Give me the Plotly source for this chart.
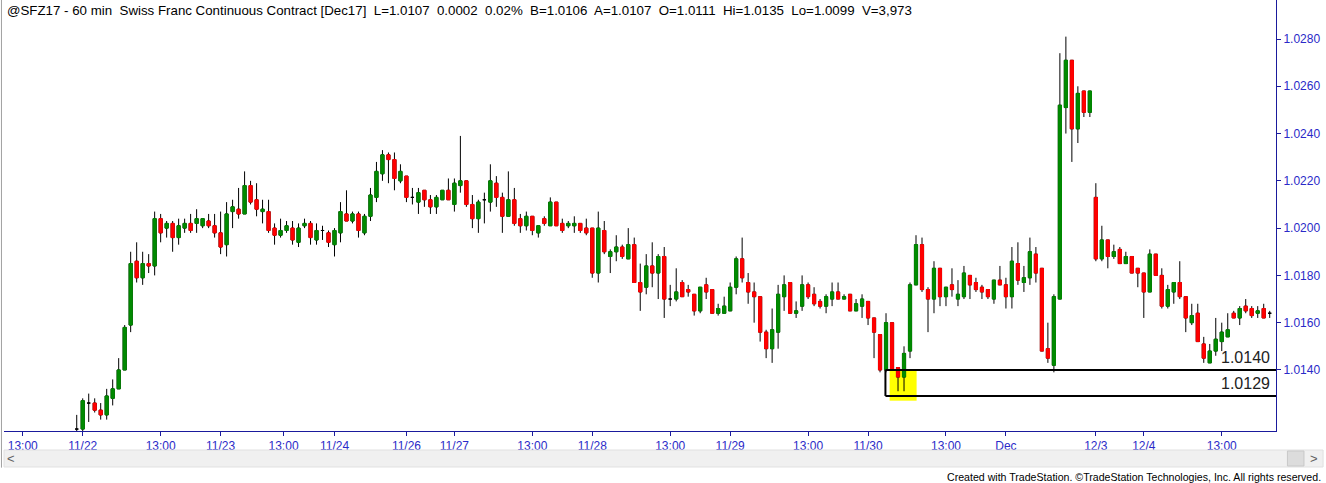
import plotly.graph_objects as go

# ---- data: hourly OHLC bars (SFZ17, 60 min) ----
opens = [1.0115,1.0115,1.0126,1.0126,1.0123,1.0121,1.0128,1.0132,1.0140,1.0159,
 1.0186,1.0179,1.0185,1.0184,1.0204,1.0200,1.0202,1.0196,1.0200,1.0202,
 1.0202,1.0201,1.0203,1.0201,1.0198,1.0193,1.0207,1.0208,1.0206,1.0218,
 1.0212,1.0207,1.0207,1.0200,1.0197,1.0199,1.0200,1.0194,1.0201,1.0202,
 1.0195,1.0199,1.0198,1.0193,1.0198,1.0206,1.0203,1.0206,1.0198,1.0205,
 1.0213,1.0223,1.0231,1.0229,1.0220,1.0222,1.0213,1.0211,1.0216,1.0212,
 1.0209,1.0212,1.0216,1.0210,1.0218,1.0220,1.0210,1.0204,1.0212,1.0211,
 1.0219,1.0213,1.0205,1.0212,1.0204,1.0201,1.0205,1.0198,1.0204,1.0201,
 1.0211,1.0202,1.0201,1.0201,1.0202,1.0200,1.0200,1.0181,1.0199,1.0188,
 1.0190,1.0192,1.0187,1.0193,1.0177,1.0175,1.0184,1.0181,1.0188,1.0170,
 1.0170,1.0177,1.0174,1.0172,1.0165,1.0176,1.0174,1.0164,1.0164,1.0165,
 1.0175,1.0187,1.0177,1.0173,1.0171,1.0156,1.0149,1.0156,1.0171,1.0177,
 1.0164,1.0167,1.0176,1.0172,1.0169,1.0167,1.0170,1.0173,1.0170,1.0172,
 1.0165,1.0167,1.0169,1.0162,1.0155,1.0140,1.0160,1.0141,1.0137,1.0148,
 1.0176,1.0193,1.0174,1.0170,1.0183,1.0171,1.0176,1.0170,1.0171,1.0180,
 1.0177,1.0175,1.0174,1.0170,1.0178,1.0176,1.0171,1.0185,1.0177,1.0179,
 1.0189,1.0183,1.0149,1.0142,1.0170,1.0251,1.0271,1.0242,1.0258,1.0249,
 1.0213,1.0187,1.0195,1.0188,1.0191,1.0185,1.0188,1.0183,1.0181,1.0173,
 1.0189,1.0180,1.0167,1.0173,1.0177,1.0171,1.0160,1.0164,1.0151,1.0143,
 1.0148,1.0152,1.0154,1.0164,1.0162,1.0167,1.0166,1.0164,1.0166,1.0164]

highs = [1.0121,1.0128,1.0130,1.0128,1.0126,1.0132,1.0136,1.0145,1.0159,1.0190,
 1.0194,1.0190,1.0189,1.0207,1.0206,1.0203,1.0203,1.0204,1.0204,1.0206,
 1.0208,1.0204,1.0206,1.0206,1.0207,1.0211,1.0212,1.0217,1.0224,1.0220,
 1.0219,1.0212,1.0212,1.0202,1.0204,1.0203,1.0203,1.0202,1.0204,1.0203,
 1.0202,1.0201,1.0199,1.0200,1.0211,1.0216,1.0207,1.0207,1.0206,1.0217,
 1.0228,1.0233,1.0232,1.0232,1.0227,1.0222,1.0217,1.0217,1.0216,1.0214,
 1.0214,1.0216,1.0221,1.0221,1.0239,1.0220,1.0214,1.0212,1.0215,1.0227,
 1.0222,1.0215,1.0224,1.0217,1.0206,1.0207,1.0205,1.0201,1.0205,1.0213,
 1.0211,1.0204,1.0203,1.0205,1.0202,1.0204,1.0200,1.0207,1.0203,1.0191,
 1.0197,1.0193,1.0200,1.0196,1.0185,1.0189,1.0194,1.0189,1.0192,1.0176,
 1.0183,1.0178,1.0176,1.0172,1.0175,1.0179,1.0174,1.0168,1.0171,1.0177,
 1.0188,1.0196,1.0181,1.0177,1.0171,1.0157,1.0166,1.0176,1.0180,1.0177,
 1.0169,1.0180,1.0177,1.0175,1.0170,1.0172,1.0177,1.0177,1.0172,1.0172,
 1.0170,1.0172,1.0169,1.0162,1.0155,1.0164,1.0160,1.0141,1.0150,1.0177,
 1.0197,1.0196,1.0175,1.0186,1.0183,1.0175,1.0183,1.0178,1.0184,1.0180,
 1.0179,1.0176,1.0174,1.0178,1.0184,1.0179,1.0192,1.0194,1.0184,1.0196,
 1.0192,1.0183,1.0160,1.0172,1.0274,1.0281,1.0271,1.0260,1.0258,1.0258,
 1.0219,1.0201,1.0195,1.0193,1.0192,1.0190,1.0188,1.0183,1.0181,1.0191,
 1.0189,1.0183,1.0176,1.0177,1.0186,1.0171,1.0168,1.0168,1.0154,1.0151,
 1.0162,1.0160,1.0164,1.0165,1.0167,1.0170,1.0167,1.0167,1.0168,1.0165]

lows = [1.0110,1.0112,1.0118,1.0122,1.0119,1.0119,1.0125,1.0132,1.0140,1.0156,
 1.0177,1.0176,1.0181,1.0180,1.0194,1.0196,1.0190,1.0193,1.0198,1.0198,
 1.0198,1.0200,1.0200,1.0196,1.0189,1.0188,1.0200,1.0204,1.0206,1.0210,
 1.0205,1.0202,1.0198,1.0193,1.0196,1.0198,1.0193,1.0192,1.0200,1.0193,
 1.0193,1.0195,1.0192,1.0188,1.0194,1.0203,1.0202,1.0196,1.0197,1.0203,
 1.0211,1.0220,1.0219,1.0216,1.0219,1.0211,1.0210,1.0206,1.0209,1.0206,
 1.0206,1.0212,1.0212,1.0207,1.0215,1.0209,1.0200,1.0198,1.0202,1.0207,
 1.0209,1.0198,1.0205,1.0201,1.0198,1.0199,1.0197,1.0196,1.0201,1.0201,
 1.0201,1.0198,1.0200,1.0198,1.0198,1.0197,1.0179,1.0177,1.0189,1.0181,
 1.0186,1.0187,1.0187,1.0177,1.0165,1.0172,1.0175,1.0170,1.0162,1.0167,
 1.0169,1.0171,1.0171,1.0163,1.0164,1.0170,1.0164,1.0163,1.0164,1.0165,
 1.0172,1.0177,1.0168,1.0160,1.0152,1.0145,1.0143,1.0149,1.0165,1.0164,
 1.0162,1.0165,1.0170,1.0167,1.0166,1.0164,1.0167,1.0170,1.0170,1.0165,
 1.0165,1.0162,1.0159,1.0145,1.0139,1.0139,1.0140,1.0131,1.0131,1.0145,
 1.0176,1.0173,1.0156,1.0164,1.0167,1.0167,1.0171,1.0167,1.0170,1.0170,
 1.0173,1.0170,1.0170,1.0168,1.0176,1.0166,1.0166,1.0176,1.0173,1.0176,
 1.0177,1.0148,1.0143,1.0139,1.0170,1.0240,1.0228,1.0236,1.0247,1.0247,
 1.0186,1.0186,1.0183,1.0187,1.0185,1.0185,1.0181,1.0175,1.0162,1.0173,
 1.0180,1.0166,1.0166,1.0168,1.0170,1.0156,1.0159,1.0152,1.0143,1.0143,
 1.0146,1.0148,1.0154,1.0162,1.0159,1.0164,1.0162,1.0162,1.0162,1.0162]

closes = [1.0115,1.0127,1.0126,1.0123,1.0121,1.0129,1.0132,1.0140,1.0158,1.0185,
 1.0179,1.0185,1.0184,1.0204,1.0198,1.0202,1.0196,1.0201,1.0202,1.0199,
 1.0204,1.0204,1.0201,1.0198,1.0192,1.0206,1.0209,1.0206,1.0218,1.0211,
 1.0208,1.0208,1.0199,1.0197,1.0199,1.0201,1.0195,1.0200,1.0202,1.0196,
 1.0199,1.0199,1.0194,1.0199,1.0207,1.0203,1.0206,1.0199,1.0205,1.0214,
 1.0224,1.0231,1.0229,1.0221,1.0224,1.0213,1.0213,1.0215,1.0212,1.0209,
 1.0213,1.0216,1.0212,1.0219,1.0220,1.0210,1.0204,1.0211,1.0212,1.0220,
 1.0213,1.0205,1.0212,1.0202,1.0201,1.0205,1.0199,1.0201,1.0202,1.0211,
 1.0201,1.0199,1.0202,1.0202,1.0199,1.0198,1.0181,1.0200,1.0190,1.0190,
 1.0192,1.0188,1.0193,1.0177,1.0173,1.0184,1.0181,1.0188,1.0170,1.0170,
 1.0173,1.0171,1.0173,1.0165,1.0175,1.0173,1.0164,1.0166,1.0167,1.0175,
 1.0187,1.0179,1.0173,1.0171,1.0156,1.0149,1.0157,1.0172,1.0176,1.0164,
 1.0165,1.0176,1.0171,1.0168,1.0167,1.0171,1.0173,1.0170,1.0171,1.0165,
 1.0168,1.0170,1.0162,1.0156,1.0140,1.0160,1.0140,1.0137,1.0147,1.0176,
 1.0193,1.0174,1.0170,1.0183,1.0171,1.0175,1.0174,1.0172,1.0181,1.0176,
 1.0174,1.0173,1.0171,1.0178,1.0176,1.0171,1.0186,1.0178,1.0179,1.0190,
 1.0181,1.0148,1.0145,1.0171,1.0252,1.0271,1.0242,1.0257,1.0249,1.0258,
 1.0187,1.0195,1.0188,1.0190,1.0185,1.0188,1.0181,1.0181,1.0173,1.0189,
 1.0180,1.0167,1.0174,1.0177,1.0171,1.0162,1.0163,1.0152,1.0145,1.0148,
 1.0153,1.0156,1.0157,1.0162,1.0166,1.0165,1.0163,1.0165,1.0162,1.0164]

# x-axis labels (bar index where each label sits)
tick_bars = [-9, 1, 14, 24, 34.5, 43, 55, 63, 76, 86, 99, 109, 122, 132, 145, 155, 170, 178, 191]
tick_labels = ["13:00", "11/22", "13:00", "11/23", "13:00", "11/24", "11/26", "11/27", "13:00",
               "11/28", "13:00", "11/29", "13:00", "11/30", "13:00", "Dec", "12/3", "12/4", "13:00"]
price_ticks = [1.0140, 1.0160, 1.0180, 1.0200, 1.0220, 1.0240, 1.0260, 1.0280]

# support levels drawn on the chart
level_hi = 1.0140
level_lo = 1.0129
box_bars = (135.6, 140.1)   # highlighted low bars
box_bottom = 1.0127

header = ("@SFZ17 - 60 min  Swiss Franc Continuous Contract [Dec17]  L=1.0107  0.0002  0.02%  "
          "B=1.0106  A=1.0107  O=1.0111  Hi=1.0135  Lo=1.0099  V=3,973")
footer = "Created with TradeStation. \u00a9TradeStation Technologies, Inc. All rights reserved."

# ---- figure ----
n = len(opens)
x = list(range(n))
X_MIN, X_MAX = -12.13, 200.05
Y_MIN, Y_MAX = 1.011418, 1.029650

GREEN = "#008a00"
RED = "#ff0000"
AXIS = "#1a1a9c"

fig = go.Figure()
# wicks (black) for every bar
fig.add_trace(go.Candlestick(
    x=x, open=opens, high=highs, low=lows, close=closes,
    increasing=dict(line=dict(color="black", width=1), fillcolor="black"),
    decreasing=dict(line=dict(color="black", width=1), fillcolor="black"),
    whiskerwidth=0, hoverinfo="skip", showlegend=False))

# coloured bodies (dojis left black)
bo, bh, bl, bc = [], [], [], []
for o, c in zip(opens, closes):
    if abs(o - c) < 1e-9:
        bo.append(None); bh.append(None); bl.append(None); bc.append(None)
    else:
        bo.append(o); bc.append(c); bh.append(max(o, c)); bl.append(min(o, c))
fig.add_trace(go.Candlestick(
    x=x, open=bo, high=bh, low=bl, close=bc,
    increasing=dict(line=dict(color=GREEN, width=1), fillcolor=GREEN),
    decreasing=dict(line=dict(color=RED, width=1), fillcolor=RED),
    whiskerwidth=0, showlegend=False))

shapes = []
# yellow highlight
shapes.append(dict(type="rect", xref="x", yref="y", x0=box_bars[0], x1=box_bars[1],
                   y0=box_bottom, y1=level_hi, fillcolor="#ffff00", line=dict(width=0), layer="below"))
# level lines
shapes.append(dict(type="line", xref="x", yref="y", x0=box_bars[0] - 0.7, x1=X_MAX,
                   y0=level_hi, y1=level_hi, line=dict(color="black", width=2)))
shapes.append(dict(type="line", xref="x", yref="y", x0=box_bars[0] - 0.7, x1=X_MAX,
                   y0=level_lo, y1=level_lo, line=dict(color="black", width=2)))
shapes.append(dict(type="line", xref="x", yref="y", x0=box_bars[0] - 0.7, x1=box_bars[0] - 0.7,
                   y0=level_lo, y1=level_hi, line=dict(color="black", width=2)))

# scrollbar below the axis
shapes.append(dict(type="rect", xref="paper", yref="paper", x0=0.0, x1=1.037,
                   y0=-0.0835, y1=-0.0441, fillcolor="#f0f0f0", line=dict(color="#e0e0e0", width=1)))
shapes.append(dict(type="rect", xref="paper", yref="paper", x0=1.009, x1=1.022,
                   y0=-0.0812, y1=-0.0464, fillcolor="#dcdcdc", line=dict(color="#c8c8c8", width=1)))
# left border
shapes.append(dict(type="line", xref="paper", yref="paper", x0=-0.002, x1=-0.002,
                   y0=-0.085, y1=1.0, line=dict(color="#a0a0a0", width=1)))

annotations = [
    dict(text=f"{level_hi:.4f}", xref="paper", yref="y", x=0.9965, y=level_hi, xanchor="right",
         yanchor="bottom", yshift=2, showarrow=False, font=dict(size=16, color="#222222")),
    dict(text=f"{level_lo:.4f}", xref="paper", yref="y", x=0.9965, y=level_lo, xanchor="right",
         yanchor="bottom", yshift=2, showarrow=False, font=dict(size=16, color="#222222")),
    dict(text=header, xref="paper", yref="paper", x=0.0, y=0.9745, xanchor="left", yanchor="middle",
         xshift=1, showarrow=False, font=dict(size=13.3, color="#000000")),
    dict(text=footer, xref="paper", yref="paper", x=1.0368, y=-0.1067, xanchor="right", yanchor="middle",
         showarrow=False, font=dict(size=10.6, color="#000000")),
    dict(text="<", xref="paper", yref="paper", x=0.0055, y=-0.064, xanchor="center", yanchor="middle",
         showarrow=False, font=dict(size=13, color="#606060")),
    dict(text=">", xref="paper", yref="paper", x=1.030, y=-0.064, xanchor="center", yanchor="middle",
         showarrow=False, font=dict(size=13, color="#606060")),
]

fig.update_layout(
    width=1326, height=483,
    margin=dict(l=4, r=50, t=0, b=52),
    paper_bgcolor="white", plot_bgcolor="white",
    font=dict(family="Arial, Liberation Sans, sans-serif", size=12, color="black"),
    showlegend=False, boxgap=0.25, boxmode="overlay",
    shapes=shapes, annotations=annotations,
    xaxis=dict(range=[X_MIN, X_MAX], rangeslider=dict(visible=False), showgrid=False, zeroline=False,
               tickmode="array", tickvals=tick_bars, ticktext=tick_labels,
               ticks="outside", ticklen=4, tickcolor=AXIS, showline=True, linecolor=AXIS, linewidth=1,
               tickfont=dict(size=12, color="#2a2ac8"), mirror=False),
    yaxis=dict(range=[Y_MIN, Y_MAX], side="right", showgrid=False, zeroline=False,
               tickmode="array", tickvals=price_ticks, ticktext=[f"{v:.4f}" for v in price_ticks],
               ticks="outside", ticklen=4, tickcolor=AXIS, showline=True, linecolor=AXIS, linewidth=1,
               tickfont=dict(size=12, color="#2a2ac8")),
)

fig.write_html("out.html", config={"displayModeBar": False},
               post_script="document.body.style.margin='0';document.body.style.overflow='hidden';")
